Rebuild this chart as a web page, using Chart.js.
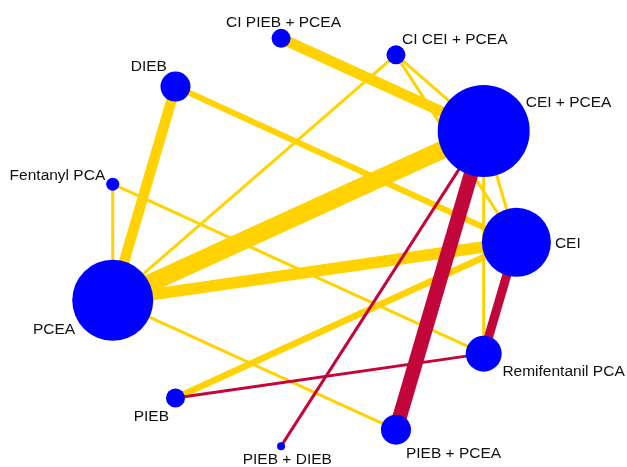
<!DOCTYPE html>
<html>
<head>
<meta charset="utf-8">
<title>Treatment network</title>
<script src="https://cdn.jsdelivr.net/npm/chart.js@4.4.1/dist/chart.umd.min.js"></script>
<style>
  html, body { margin: 0; padding: 0; background: #ffffff; }
  #net { display: block; }
</style>
</head>
<body>
<canvas id="net" width="627" height="467"></canvas>
<script>
// Treatments, placed counter-clockwise around the circle starting at 3 o'clock
const treatments = [
  'CEI', 'CEI + PCEA', 'CI CEI + PCEA', 'CI PIEB + PCEA', 'DIEB',
  'Fentanyl PCA', 'PCEA', 'PIEB', 'PIEB + DIEB', 'PIEB + PCEA', 'Remifentanil PCA'
];
// Node size (radius in px, reflects number of patients)
const nodeSize = [34.5, 46, 9.5, 9.5, 15, 6.5, 40.5, 9.5, 4, 15, 18];

// Direct comparisons: endpoints, line thickness (number of studies) and group
const edgeFrom = [
  'CI PIEB + PCEA', 'CI CEI + PCEA', 'CI CEI + PCEA', 'CI CEI + PCEA',
  'DIEB', 'DIEB', 'CEI + PCEA', 'CEI + PCEA', 'CEI + PCEA',
  'Fentanyl PCA', 'Fentanyl PCA', 'PCEA', 'PCEA', 'PIEB',
  'CEI + PCEA', 'CEI + PCEA', 'CEI', 'Remifentanil PCA'
];
const edgeTo = [
  'CEI + PCEA', 'CEI + PCEA', 'CEI', 'PCEA',
  'PCEA', 'CEI', 'PCEA', 'CEI', 'Remifentanil PCA',
  'PCEA', 'Remifentanil PCA', 'CEI', 'PIEB + PCEA', 'CEI',
  'PIEB + PCEA', 'PIEB + DIEB', 'Remifentanil PCA', 'PIEB'
];
const edgeWidth = [
  10.5, 3, 3, 3,
  10.5, 6, 18, 3, 3,
  3, 3, 11.5, 3, 6.5,
  14.5, 3, 9, 3
];
const edgeGroup = [
  'a', 'a', 'a', 'a',
  'a', 'a', 'a', 'a', 'a',
  'a', 'a', 'a', 'a', 'a',
  'b', 'b', 'b', 'b'
];

// Styling
const NODE_COLOR = '#0000ff';
const GROUP_COLOR = { a: '#ffd200', b: '#c3063a' };
const FONT = '15.5px "Liberation Sans", Arial, Helvetica, sans-serif';

// Circular layout on a unit circle
const n = treatments.length;
const pos = treatments.map((t, i) => {
  const a = i * 2 * Math.PI / n;
  return { x: Math.cos(a), y: Math.sin(a) };
});
const idx = name => treatments.indexOf(name);

// Label placement relative to node centre: [textAlign, dx, dy(baseline)]
const labelPlace = [
  ['left', 38.5, 5.7],
  ['left', 42, -24.3],
  ['left', 6, -10.5],
  ['center', 2.4, -11.8],
  ['right', -8.6, -15.7],
  ['right', -7.5, -4],
  ['right', -37.6, 34],
  ['right', -6.5, 23.3],
  ['center', 6.2, 17.5],
  ['left', 10, 28.7],
  ['left', 18.7, 22.7]
];

// Edge datasets: yellow group first, red group drawn over it
const edgeDatasets = edgeFrom.map((f, k) => {
  const a = pos[idx(f)], b = pos[idx(edgeTo[k])];
  return {
    type: 'line',
    data: [{ x: a.x, y: a.y }, { x: b.x, y: b.y }],
    borderColor: GROUP_COLOR[edgeGroup[k]],
    borderWidth: edgeWidth[k],
    borderCapStyle: 'butt',
    pointRadius: 0,
    pointHoverRadius: 0,
    fill: false,
    tension: 0,
    clip: false,
    order: edgeGroup[k] === 'b' ? 1 : 2
  };
});

const nodeDataset = {
  type: 'bubble',
  data: treatments.map((t, i) => ({ x: pos[i].x, y: pos[i].y, r: nodeSize[i] })),
  backgroundColor: NODE_COLOR,
  borderWidth: 0,
  hoverRadius: 0,
  clip: false,
  order: 0
};

const nodeLabels = {
  id: 'nodeLabels',
  afterDatasetsDraw(chart) {
    const { ctx, scales } = chart;
    ctx.save();
    ctx.font = FONT;
    ctx.fillStyle = '#111111';
    ctx.textBaseline = 'alphabetic';
    treatments.forEach((t, i) => {
      const px = scales.x.getPixelForValue(pos[i].x);
      const py = scales.y.getPixelForValue(pos[i].y);
      const [align, dx, dy] = labelPlace[i];
      ctx.textAlign = align;
      ctx.fillText(t, px + dx, py + dy);
    });
    ctx.restore();
  }
};

new Chart(document.getElementById('net'), {
  type: 'bubble',
  data: { datasets: [...edgeDatasets, nodeDataset] },
  options: {
    responsive: false,
    animation: false,
    events: [],
    layout: { padding: 0, autoPadding: false },
    plugins: { legend: { display: false }, tooltip: { enabled: false } },
    scales: {
      x: { type: 'linear', display: false, min: -1.5068, max: 1.5369 },
      y: { type: 'linear', display: false, min: -1.091, max: 1.176 }
    }
  },
  plugins: [nodeLabels]
});
</script>
</body>
</html>
